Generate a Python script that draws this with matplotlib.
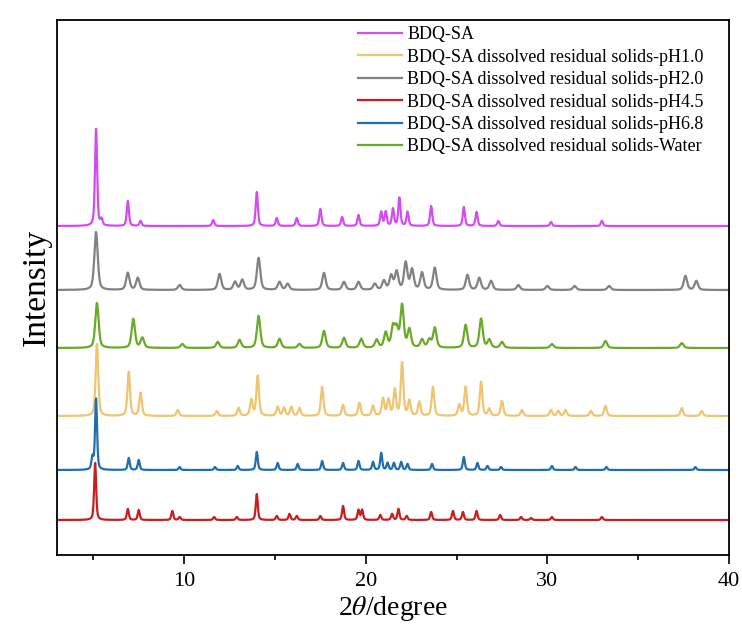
import numpy as np
import matplotlib
matplotlib.use("Agg")
import matplotlib.pyplot as plt

plt.rcParams['font.family'] = ['Liberation Serif', 'DejaVu Serif']
plt.rcParams['mathtext.fontset'] = 'stix'

# peak lists: position (2theta), height (px-like units)
sa_pos = [5.15, 5.45, 6.9, 7.6, 11.6, 14.0, 15.1, 16.2, 17.5, 18.7, 19.6, 20.85, 21.1, 21.5, 21.85,
          22.3, 23.6, 25.4, 26.1, 27.3, 30.2, 33.0]
sa_h = [97, 6, 25, 5, 6, 34, 8, 8, 17, 9, 11, 14, 14, 17, 28, 14, 20, 19, 14, 5, 4, 5]

ph1_pos = [5.2, 6.95, 7.6, 9.65, 11.8, 13.0, 13.7, 14.05, 15.15, 15.5, 15.9, 16.35, 17.6, 18.75,
           19.65, 20.4, 20.95, 21.25, 21.6, 22.0, 22.4, 22.95, 23.7, 25.15, 25.5, 26.35, 26.8,
           27.5, 28.6, 30.2, 30.6, 31.0, 32.4, 33.2, 37.4, 38.5]
ph1_h = [72, 44, 23, 6, 5, 8, 16, 40, 9, 8, 9, 8, 29, 11, 13, 10, 17, 16, 26, 53, 15, 14, 29, 11,
         29, 34, 7, 15, 6, 6, 5, 6, 5, 10, 8, 5]

ph2_pos = [5.15, 6.9, 7.45, 9.75, 11.95, 12.8, 13.2, 14.1, 15.25, 15.7, 17.7, 18.8, 19.6, 20.5,
           21.0, 21.4, 21.7, 22.2, 22.55, 23.1, 23.8, 25.6, 26.25, 26.9, 28.4, 30.0, 31.5,
           33.4, 37.6, 38.2]
ph2_h = [58, 17, 12, 5, 16, 8, 10, 32, 8, 6, 17, 8, 8, 6, 9, 14, 18, 27, 20, 17, 22, 15, 12, 9,
         5, 4, 4, 4, 14, 9]

ph45_pos = [5.1, 6.9, 7.5, 9.35, 9.75, 11.65, 12.9, 14.0, 15.1, 15.8, 16.2, 17.5, 18.75, 19.6,
            19.8, 20.8, 21.45, 21.8, 22.25, 23.6, 24.8, 25.35, 26.1, 27.4, 28.55, 29.1, 30.25, 33.0]
ph45_h = [57, 11, 10, 9, 3, 3, 3, 26, 4, 6, 4, 4, 14, 10, 10, 5, 6, 11, 4, 8, 9, 8, 9, 5, 3, 2, 3, 3]

ph68_pos = [4.95, 5.15, 6.95, 7.5, 9.75, 11.7, 12.95, 14.0, 15.15, 16.25, 17.6, 18.75, 19.6, 20.4,
            20.85, 21.2, 21.55, 21.95, 22.3, 23.65, 25.4, 26.15, 26.7, 27.45, 30.25, 31.55, 33.25, 38.15]
ph68_h = [12, 71, 12, 10, 3, 3, 4, 18, 7, 6, 9, 7, 9, 8, 17, 7, 7, 8, 6, 6, 13, 7, 4, 3, 4, 3, 3, 3]

water_pos = [5.2, 7.2, 7.7, 9.9, 11.85, 13.05, 14.1, 15.25, 16.35, 17.7, 18.8, 19.75, 20.6, 21.1,
             21.5, 21.7, 22.0, 22.4, 23.1, 23.5, 23.8, 25.5, 26.35, 26.8, 27.5, 30.25, 33.2, 37.4]
water_h = [45, 29, 10, 4, 6, 8, 32, 9, 4, 17, 10, 9, 8, 15, 20, 18, 42, 18, 8, 8, 20, 23, 29, 8,
           6, 4, 7, 5]

labels = ["BDQ-SA",
          "BDQ-SA dissolved residual solids-pH1.0",
          "BDQ-SA dissolved residual solids-pH2.0",
          "BDQ-SA dissolved residual solids-pH4.5",
          "BDQ-SA dissolved residual solids-pH6.8",
          "BDQ-SA dissolved residual solids-Water"]
offsets = [329, 139, 265, 35, 85, 207]
widths = [0.14, 0.17, 0.22, 0.13, 0.13, 0.22]
colors = ["#D24DF0", "#EEC572", "#828282", "#C81E1E", "#1F6EAE", "#6AAA2A"]
peaks = [(sa_pos, sa_h), (ph1_pos, ph1_h), (ph2_pos, ph2_h),
         (ph45_pos, ph45_h), (ph68_pos, ph68_h), (water_pos, water_h)]


def pattern(x, pos, h, w, eta=0.5):
    y = np.zeros_like(x)
    for p, a in zip(pos, h):
        d = (x - p) / (w / 2)
        y += a * (eta / (1 + d ** 2) + (1 - eta) * np.exp(-np.log(2) * d ** 2))
    return y


x = np.arange(3, 40, 0.01)

fig = plt.figure(figsize=(7.42, 6.3), dpi=100)
ax = fig.add_axes([57 / 742, 75 / 630, 672 / 742, 535 / 630])

for (pos, h), off, w, c, lab in zip(peaks, offsets, widths, colors, labels):
    ax.plot(x, off + pattern(x, pos, h, w), color=c, lw=1.6, label=lab)

ax.set_xlim(3, 40)
ax.set_ylim(0, 535)
ax.set_xticks([10, 20, 30, 40])
ax.set_xticks([5, 15, 25, 35], minor=True)
ax.set_yticks([])
ax.tick_params(axis='x', which='major', length=6.5, width=1.2, labelsize=16, direction='out', pad=6)
ax.tick_params(axis='x', which='minor', length=3.5, width=1.2, direction='out')
for s in ax.spines.values():
    s.set_linewidth(1.3)

ax.set_xlabel(r"2$\mathit{\theta}$/degree", fontsize=20, labelpad=2)
ax.set_ylabel("Intensity", fontsize=24, labelpad=4)

ax.legend(loc='upper left', bbox_to_anchor=(0.443, 0.995), frameon=False,
          prop={'size': 13}, handlelength=2.4,
          handletextpad=0.3, labelspacing=0.3, borderpad=0.2, borderaxespad=0)

fig.savefig("out.png", dpi=100)
